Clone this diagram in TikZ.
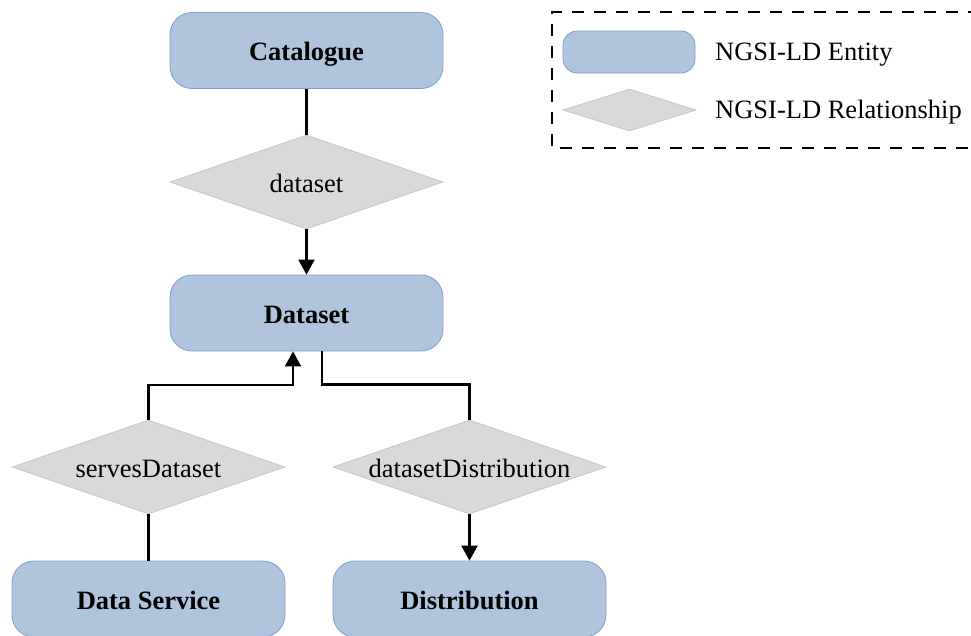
\documentclass[tikz,border=0pt]{standalone}
\usepackage{fontspec}
\setmainfont{Liberation Serif}
\usetikzlibrary{shapes.geometric,arrows.meta}
\definecolor{entfill}{RGB}{176,196,222}
\definecolor{entdraw}{RGB}{130,158,200}
\definecolor{relfill}{RGB}{217,217,217}
\definecolor{reldraw}{RGB}{200,200,200}
\tikzset{
  bigfont/.style={font=\fontsize{26.5}{30}\selectfont},
  entity/.style={rectangle, rounded corners=22pt, fill=entfill, draw=entdraw, line width=0.8pt,
    minimum width=273pt, minimum height=76pt, inner sep=0pt, text height=20pt, text depth=0pt,
    font=\fontsize{26.5}{30}\selectfont\bfseries},
  relation/.style={diamond, aspect=2.9, fill=relfill, draw=reldraw, line width=0.8pt,
    minimum width=273pt, minimum height=94pt, inner sep=0pt, text height=20pt, text depth=0pt, bigfont},
  legent/.style={rectangle, rounded corners=14pt, fill=entfill, draw=entdraw, line width=0.8pt,
    minimum width=132pt, minimum height=42pt, inner sep=0pt},
  legrel/.style={diamond, aspect=3.1, fill=relfill, draw=reldraw, line width=0.8pt,
    minimum width=133pt, minimum height=42pt, inner sep=0pt},
  legtext/.style={anchor=west, inner sep=0pt, text height=16pt, text depth=0pt, bigfont},
  conn/.style={line width=2.2pt, draw=black},
  arr/.style={conn, -{Triangle[width=16pt,length=15pt]}},
}
\begin{document}
\begin{tikzpicture}[x=1pt,y=-1pt]
\useasboundingbox (0,0) rectangle (971,635);
% legend
\draw[line width=1.3pt, dash pattern=on 12pt off 10pt] (980,12) -- (552,12) -- (552,148) -- (980,148);
\node[legent] (le) at (629,52) {};
\node[legrel] (lr) at (629.5,110) {};
\node[legtext] (let) at (715,52) {NGSI-LD Entity};
\node[legtext] (lrt) at (715,110) {NGSI-LD Relationship};
% nodes
\node[entity] (cat) at (306.5,50.5) {Catalogue};
\node[relation] (rds) at (306.5,182) {dataset};
\node[entity] (ds) at (306.5,313) {Dataset};
\node[relation] (rsd) at (148.5,467) {servesDataset};
\node[relation] (rdd) at (469.5,467) {datasetDistribution};
\node[entity] (svc) at (148.5,599) {Data Service};
\node[entity] (dist) at (469.5,599) {Distribution};
% connectors
\draw[conn] (cat.south) -- (rds.north);
\draw[arr] (rds.south) -- (ds.north);
\draw[conn] (rsd.south) -- (svc.north);
\draw[arr] (rdd.south) -- (dist.north);
\draw[arr] (rsd.north) -- ++(0,-35) -| ([xshift=-13.5pt]ds.south);
\draw[conn] ([xshift=15.5pt]ds.south) -- ++(0,33) -| (rdd.north);
\end{tikzpicture}
\end{document}
